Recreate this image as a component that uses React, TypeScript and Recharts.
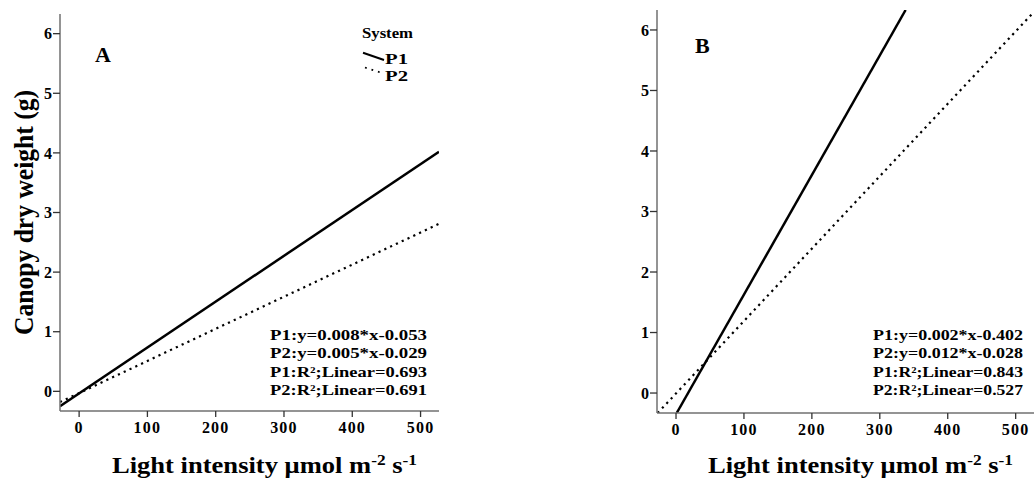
import React from 'react';
import { ComposedChart, Line, XAxis, YAxis, Customized } from 'recharts';

// Axis ranges and ticks shared by both panels
const lightTicks = [0, 100, 200, 300, 400, 500];
const weightTicks = [0, 1, 2, 3, 4, 5, 6];
const lightDomain: [number, number] = [-28, 527];
const weightDomain: [number, number] = [-0.33, 6.33];

const systems = ['P1', 'P2'];

// Panel A fitted lines (light intensity -> canopy dry weight)
const aLightP1 = [-28, 527];
const aWeightP1 = [-0.25, 4.02];
const aLightP2 = [-28, 527];
const aWeightP2 = [-0.18, 2.81];

// Panel B fitted lines
const bLightP1 = [1, 338];
const bWeightP1 = [-0.33, 6.33];
const bLightP2 = [-27, 527];
const bWeightP2 = [-0.33, 6.3];

const aEquations = [
  'P1:y=0.008*x-0.053',
  'P2:y=0.005*x-0.029',
  'P1:R²;Linear=0.693',
  'P2:R²;Linear=0.691',
];
const bEquations = [
  'P1:y=0.002*x-0.402',
  'P2:y=0.012*x-0.028',
  'P1:R²;Linear=0.843',
  'P2:R²;Linear=0.527',
];

const FONT = '"Liberation Serif", "Times New Roman", Times, serif';
const FRAME = '#707070';

const toPoints = (xs: number[], ys: number[]) => xs.map((x, i) => ({ x, y: ys[i] }));

const xTickStyle = { fill: '#000', fontSize: 16, fontWeight: 'bold', fontFamily: FONT, letterSpacing: 1.2 };
const yTickStyle = { fill: '#000', fontSize: 16, fontWeight: 'bold', fontFamily: FONT };

const XTitle = ({ cx, baseline }: { cx: number; baseline: number }) => (
  <text
    x={cx}
    y={baseline}
    textAnchor="middle"
    fontFamily={FONT}
    fontWeight="bold"
    fontSize={23}
    fill="#000"
    textLength={305}
    lengthAdjust="spacingAndGlyphs"
  >
    Light intensity μmol m
    <tspan fontSize={15} dy={-8}>-2</tspan>
    <tspan dy={8}> s</tspan>
    <tspan fontSize={15} dy={-8}>-1</tspan>
  </text>
);

const Equations = ({ x, width, lines }: { x: number; width: number; lines: string[] }) => {
  const baselines = [340, 358.3, 376.5, 394.5];
  return (
    <g>
      {lines.map((t, i) => (
        <text
          key={t}
          x={x}
          y={baselines[i]}
          fontFamily={FONT}
          fontWeight="bold"
          fontSize={14}
          fill="#000"
          textLength={width}
          lengthAdjust="spacingAndGlyphs"
        >
          {t}
        </text>
      ))}
    </g>
  );
};

const PanelAExtras = () => (
  <g>
    <g transform="translate(33 212.5) rotate(-90) scale(1 1.12)">
      <text
        x={0}
        y={0}
        textAnchor="middle"
        fontFamily={FONT}
        fontWeight="bold"
        fontSize={25}
        fill="#000"
        textLength={245}
        lengthAdjust="spacingAndGlyphs"
      >
        Canopy dry weight (g)
      </text>
    </g>
    <text x={95} y={61.7} fontFamily={FONT} fontWeight="bold" fontSize={22} fill="#000">A</text>
    {/* legend */}
    <text x={362} y={38} fontFamily={FONT} fontWeight="bold" fontSize={14} fill="#000" textLength={51} lengthAdjust="spacingAndGlyphs">System</text>
    <line x1={363} y1={52.7} x2={384} y2={60} stroke="#000" strokeWidth={2} />
    <text x={385} y={64} fontFamily={FONT} fontWeight="bold" fontSize={15} fill="#000" textLength={23} lengthAdjust="spacingAndGlyphs">{systems[0]}</text>
    <line x1={365} y1={67.5} x2={382} y2={73} stroke="#000" strokeWidth={1.8} strokeDasharray="1.8 5" />
    <text x={385} y={80.5} fontFamily={FONT} fontWeight="bold" fontSize={15} fill="#000" textLength={23} lengthAdjust="spacingAndGlyphs">{systems[1]}</text>
    <Equations x={270} width={157} lines={aEquations} />
    <XTitle cx={264.5} baseline={473} />
  </g>
);

const PanelBExtras = () => (
  <g>
    <text x={135} y={53} fontFamily={FONT} fontWeight="bold" fontSize={22} fill="#000">B</text>
    <Equations x={313} width={150} lines={bEquations} />
    <XTitle cx={300.5} baseline={473} />
  </g>
);

type PanelProps = {
  left: number;
  width: number;
  margin: { top: number; right: number; bottom: number; left: number };
  p1: { x: number; y: number }[];
  p2: { x: number; y: number }[];
  Extras: React.FC;
};

const Panel = ({ left, width, margin, p1, p2, Extras }: PanelProps) => (
  <div style={{ position: 'absolute', left, top: 0 }}>
    <ComposedChart width={width} height={481} margin={margin}>
      <XAxis
        type="number"
        dataKey="x"
        domain={lightDomain}
        ticks={lightTicks}
        allowDataOverflow
        height={30}
        tickSize={6}
        tickMargin={5}
        tick={xTickStyle}
        axisLine={{ stroke: FRAME, strokeWidth: 1.5 }}
        tickLine={{ stroke: '#333', strokeWidth: 1.3 }}
      />
      <XAxis
        xAxisId="top"
        orientation="top"
        type="number"
        dataKey="x"
        domain={lightDomain}
        allowDataOverflow
        height={0}
        tick={false}
        tickLine={false}
        axisLine={{ stroke: FRAME, strokeWidth: 1.5 }}
      />
      <YAxis
        type="number"
        domain={weightDomain}
        ticks={weightTicks}
        allowDataOverflow
        width={30}
        tickSize={7}
        tickMargin={1}
        tick={yTickStyle}
        axisLine={{ stroke: FRAME, strokeWidth: 1.5 }}
        tickLine={{ stroke: '#333', strokeWidth: 1.3 }}
      />
      <YAxis
        yAxisId="right"
        orientation="right"
        type="number"
        domain={weightDomain}
        allowDataOverflow
        width={0}
        tick={false}
        tickLine={false}
        axisLine={{ stroke: FRAME, strokeWidth: 1.5 }}
      />
      <Line
        data={p1}
        dataKey="y"
        name={systems[0]}
        type="linear"
        stroke="#000"
        strokeWidth={2.5}
        dot={false}
        activeDot={false}
        isAnimationActive={false}
      />
      <Line
        data={p2}
        dataKey="y"
        name={systems[1]}
        type="linear"
        stroke="#000"
        strokeWidth={2.2}
        strokeDasharray="2.2 4.2"
        dot={false}
        activeDot={false}
        isAnimationActive={false}
      />
      <Customized component={Extras} />
    </ComposedChart>
  </div>
);

export default function App() {
  return (
    <div style={{ position: 'absolute', left: 0, top: 0, width: 1035, height: 481, background: '#fff' }}>
      <Panel
        left={0}
        width={520}
        margin={{ top: 14, right: 81, bottom: 40, left: 30 }}
        p1={toPoints(aLightP1, aWeightP1)}
        p2={toPoints(aLightP2, aWeightP2)}
        Extras={PanelAExtras}
      />
      <Panel
        left={560}
        width={475}
        margin={{ top: 10, right: 1, bottom: 38, left: 67 }}
        p1={toPoints(bLightP1, bWeightP1)}
        p2={toPoints(bLightP2, bWeightP2)}
        Extras={PanelBExtras}
      />
    </div>
  );
}
